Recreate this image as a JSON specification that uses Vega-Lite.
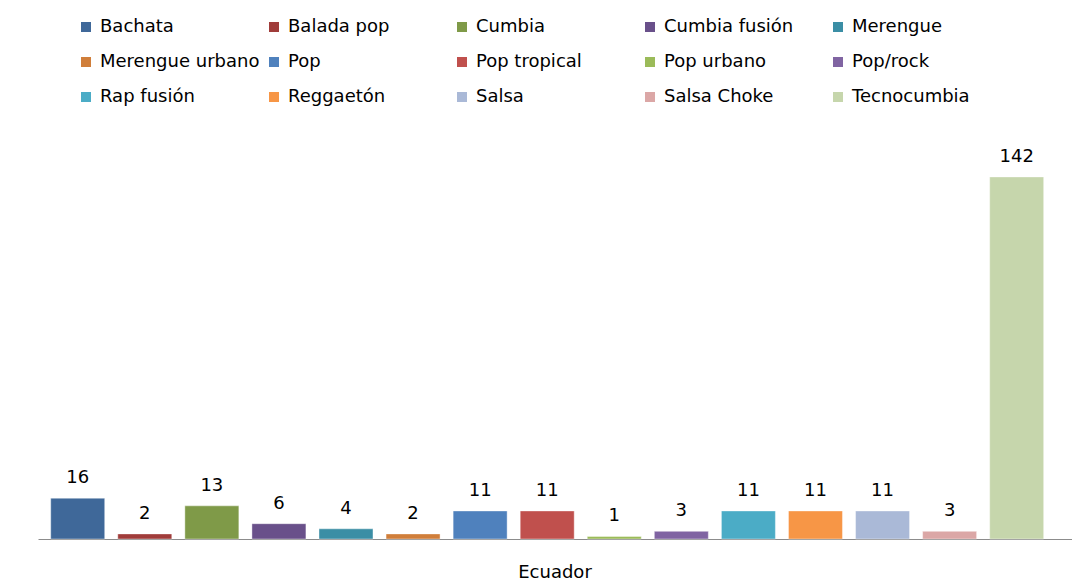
{
  "$schema": "https://vega.github.io/schema/vega-lite/v6.json",
  "width": 1034,
  "height": 408,
  "autosize": {"type": "none"},
  "padding": {"left": 38, "top": 131, "right": 0, "bottom": 42},
  "background": "white",
  "config": {
    "view": {"stroke": null},
    "font": "DejaVu Sans",
    "text": {"font": "DejaVu Sans"}
  },
  "data": {
    "values": [
      {"country": "Ecuador", "genre": "Bachata", "count": 16},
      {"country": "Ecuador", "genre": "Balada pop", "count": 2},
      {"country": "Ecuador", "genre": "Cumbia", "count": 13},
      {"country": "Ecuador", "genre": "Cumbia fusión", "count": 6},
      {"country": "Ecuador", "genre": "Merengue", "count": 4},
      {"country": "Ecuador", "genre": "Merengue urbano", "count": 2},
      {"country": "Ecuador", "genre": "Pop", "count": 11},
      {"country": "Ecuador", "genre": "Pop tropical", "count": 11},
      {"country": "Ecuador", "genre": "Pop urbano", "count": 1},
      {"country": "Ecuador", "genre": "Pop/rock", "count": 3},
      {"country": "Ecuador", "genre": "Rap fusión", "count": 11},
      {"country": "Ecuador", "genre": "Reggaetón", "count": 11},
      {"country": "Ecuador", "genre": "Salsa", "count": 11},
      {"country": "Ecuador", "genre": "Salsa Choke", "count": 3},
      {"country": "Ecuador", "genre": "Tecnocumbia", "count": 142}
    ]
  },
  "encoding": {
    "x": {
      "field": "country",
      "type": "nominal",
      "scale": {"paddingInner": 0, "paddingOuter": 0},
      "axis": {
        "title": null,
        "labelAngle": 0,
        "labelFontSize": 18,
        "labelFont": "DejaVu Sans",
        "labelColor": "#000000",
        "labelPadding": 24,
        "ticks": false,
        "domainColor": "#8c8c8c",
        "domainWidth": 1
      }
    },
    "xOffset": {
      "field": "genre",
      "type": "nominal",
      "sort": null,
      "scale": {"paddingInner": 0.195, "paddingOuter": 0.306, "align": 0.31}
    },
    "y": {
      "field": "count",
      "type": "quantitative",
      "scale": {"domain": [0, 160]},
      "axis": null
    }
  },
  "layer": [
    {
      "mark": {"type": "bar", "stroke": "#ffffff", "strokeOpacity": 0.4, "strokeWidth": 1},
      "encoding": {
        "color": {
          "field": "genre",
          "type": "nominal",
          "scale": {
            "domain": ["Bachata", "Balada pop", "Cumbia", "Cumbia fusión", "Merengue", "Merengue urbano", "Pop", "Pop tropical", "Pop urbano", "Pop/rock", "Rap fusión", "Reggaetón", "Salsa", "Salsa Choke", "Tecnocumbia"],
            "range": ["#3F6899", "#A03C3A", "#7F9A48", "#69508A", "#3B8EA5", "#D07E3A", "#4F81BD", "#C0504D", "#9BBB59", "#8064A2", "#4BACC6", "#F79646", "#AAB9D7", "#DBA7A6", "#C6D6AC"]
          },
          "legend": {
            "title": null,
            "orient": "none",
            "legendX": 39,
            "legendY": -113,
            "direction": "horizontal",
            "columns": 5,
            "gridAlign": "all",
            "columnPadding": 5,
            "rowPadding": 17,
            "symbolType": "square",
            "symbolSize": 100,
            "symbolStrokeWidth": 0,
            "symbolOpacity": 1,
            "labelFontSize": 18,
            "labelFont": "DejaVu Sans",
            "labelColor": "#000000",
            "labelOffset": 5,
            "labelLimit": 300
          }
        }
      }
    },
    {
      "mark": {"type": "text", "baseline": "bottom", "dy": -11, "fontSize": 18, "font": "DejaVu Sans", "color": "#000000"},
      "encoding": {
        "text": {"field": "count", "type": "quantitative"}
      }
    }
  ]
}
